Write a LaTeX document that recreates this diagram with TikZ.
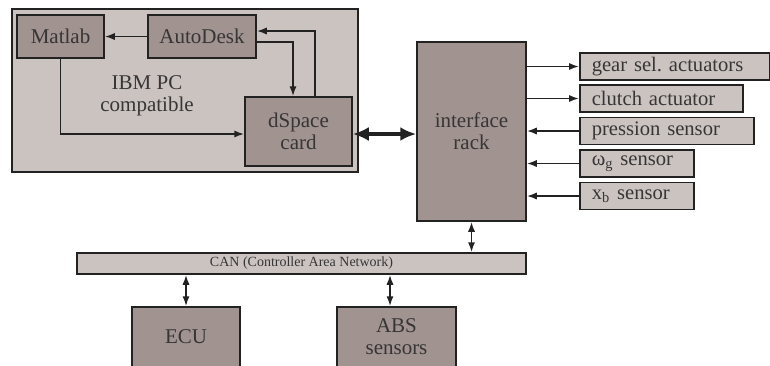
\documentclass[tikz,border=0pt]{standalone}
\usepackage{fontspec}
\setmainfont{Liberation Serif}
\frenchspacing
\usetikzlibrary{arrows.meta,calc,positioning}
\definecolor{Ink}{HTML}{222222}
\definecolor{Type}{HTML}{363636}
\definecolor{Pale}{HTML}{CBC3C0}
\definecolor{Taupe}{HTML}{A1938F}

\tikzset{
  darkbox/.style={draw=Ink,line width=0.75pt,fill=Taupe,inner sep=0pt,align=center,
    text=Type,font=\fontsize{10.5}{11}\selectfont},
  palebox/.style={draw=Ink,line width=0.75pt,fill=Pale,inner sep=0pt,text=Type},
  sensorbox/.style={palebox,anchor=west,minimum height=13.5pt,inner xsep=6pt,
    align=left,font=\fontsize{10.3}{11}\selectfont},
  link/.style={line width=0.9pt,draw=Ink,-{Latex[length=5pt,width=3.6pt]}},
  duplex/.style={line width=0.9pt,draw=Ink,
    {Latex[length=5pt,width=3.6pt]}-{Latex[length=5pt,width=3.6pt]}},
}

\begin{document}
\begin{tikzpicture}[x=0.5pt,y=-0.5pt]
      \useasboundingbox (0,0) rectangle (770,365);
      % PC side
      \node[palebox,minimum width=173pt,minimum height=81.5pt] (pc) at (185,90.5) {};
      \node[darkbox,minimum width=43.5pt,minimum height=21.5pt] (matlab) at (60.5,36.5) {Matlab};
      \node[darkbox,minimum width=54pt,minimum height=21.5pt] (autodesk) at (202,36.5) {AutoDesk};
      \node[darkbox,minimum width=53.5pt,minimum height=34.5pt] (dspace) at (298.5,131.5) {dSpace\\card};
      \node[align=center,text=Type,font=\fontsize{10.5}{11}\selectfont] (pclabel) at (147,96) {IBM PC\\compatible};
      % rack and its lines
      \node[darkbox,minimum width=54.5pt,minimum height=89.5pt] (rack) at (471.5,131.5) {interface\\rack};
      \node[sensorbox,text width=83pt] (gear) at (579,66.5) {gear sel. actuators};
      \node[sensorbox,text width=69.5pt] (clutch) at (579,98.5) {clutch actuator};
      \node[sensorbox,text width=75pt] (pression) at (579,131) {pression sensor};
      \node[sensorbox,text width=45pt] (omega) at (579,163.5) {ω\textsubscript{g} sensor};
      \node[sensorbox,text width=45pt] (xb) at (579,196) {x\textsubscript{b} sensor};
      % bus
      \node[palebox,minimum width=224.5pt,minimum height=10.5pt,font=\fontsize{7}{8}\selectfont] (can) at (301.5,263.5) {CAN (Controller Area Network)};
      \node[darkbox,minimum width=54pt,minimum height=30pt] (ecu) at (186,337) {ECU};
      \node[darkbox,minimum width=59.5pt,minimum height=30pt] (abs) at (396.5,337) {ABS\\sensors};

      \draw[link] (autodesk.west) -- (matlab.east);
      \draw[link] ([xshift=8.25pt]dspace.north) |- ([yshift=2.75pt]autodesk.east);
      \draw[link] ([yshift=-2.75pt]autodesk.east) -| ([xshift=-2.75pt]dspace.north);
      \draw[link] (matlab.south) |- ([yshift=-1.25pt]dspace.west);
      \draw[line width=2pt,draw=Ink,{Latex[length=8pt,width=7pt]}-{Latex[length=8pt,width=7pt]}]
        ([yshift=-1.25pt]dspace.east) -- ([yshift=-1.25pt]dspace.east -| rack.west);
      \draw[link] (rack.east |- gear.west) -- (gear.west);
      \draw[link] (rack.east |- clutch.west) -- (clutch.west);
      \draw[link] (pression.west) -- (rack.east |- pression.west);
      \draw[link] (omega.west) -- (rack.east |- omega.west);
      \draw[link] (xb.west) -- (rack.east |- xb.west);
      \draw[duplex] (rack.south) -- (rack.south |- can.north);
      \draw[duplex] (ecu.north |- can.south) -- (ecu.north);
      \draw[duplex] ([xshift=-3.25pt]abs.north |- can.south) -- ([xshift=-3.25pt]abs.north);
    \end{tikzpicture}
\end{document}
